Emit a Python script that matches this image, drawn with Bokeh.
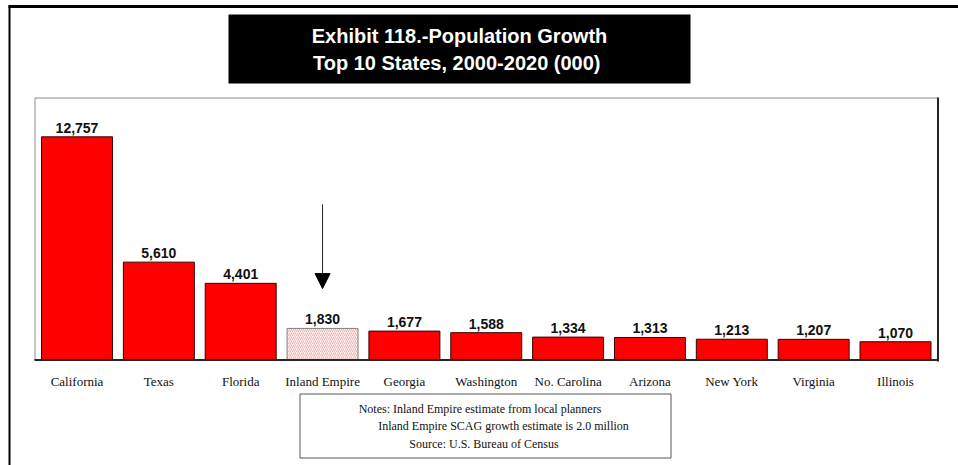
from bokeh.plotting import figure
from bokeh.models import Range1d, Arrow, NormalHead, ColumnDataSource
from bokeh.core.properties import value
from bokeh.embed import file_html
from bokeh.resources import INLINE

categories = ["California", "Texas", "Florida", "Inland Empire", "Georgia", "Washington",
              "No. Carolina", "Arizona", "New York", "Virginia", "Illinois"]
growth = [12757, 5610, 4401, 1830, 1677, 1588, 1334, 1313, 1213, 1207, 1070]
highlight = "Inland Empire"
title_lines = ["Exhibit 118.-Population Growth", "Top 10 States, 2000-2020  (000)"]
note_lines = ["Notes:  Inland Empire estimate from local planners",
              "Inland Empire SCAG growth estimate is 2.0 million",
              "Source:  U.S. Bureau of Census"]
y_max = 15000
arrow_top = 8900
arrow_tip = 4100

# ---- layout constants (canvas pixels) ----
W, H = 958, 465
FT, FB = 97, 360            # top / bottom of the plot box
S = 81.85                   # pixels per category slot
X0 = 76.5 - 0.5 * S         # pixel of slot origin
BAR_W = 0.867
px_per = (FB - FT) / y_max


def X(px):
    return (px - X0) / S


def Y(py):
    return (FB - py) / px_per


p = figure(width=W, height=H, x_range=Range1d(X(0), X(W)), y_range=Range1d(Y(H), Y(0)),
           output_backend="svg", toolbar_location=None,
           min_border_left=0, min_border_right=0, min_border_top=0, min_border_bottom=0)
p.background_fill_color = "white"
p.border_fill_color = "white"
p.outline_line_color = None
p.xgrid.visible = False
p.ygrid.visible = False
p.xaxis.visible = False
p.yaxis.visible = False

# outer border
p.quad(left=[X(8), X(8)], right=[X(10), X(W)], top=[Y(5), Y(4.5)], bottom=[Y(H), Y(7.5)],
       fill_color="black", line_color=None)
# title box
p.quad(left=[X(228)], right=[X(690)], top=[Y(14)], bottom=[Y(83)],
       fill_color="black", line_color=None)
p.text(x=[X(459), X(459)], y=[Y(35), Y(62)], text=title_lines, text_align="center",
       text_baseline="middle", text_color="white", text_font=value("Liberation Sans"),
       text_font_style="bold", text_font_size="20px")
# plot box
p.quad(left=[X(34.5)], right=[X(937.5)], top=[Y(97.5)], bottom=[Y(359.5)],
       fill_color="white", line_color="#8c8c8c", line_width=1)

pos = [i + 0.5 for i in range(len(categories))]
labels = [f"{v:,}" for v in growth]
main = ColumnDataSource(dict(x=[x for x, c in zip(pos, categories) if c != highlight],
                             y=[v for c, v in zip(categories, growth) if c != highlight]))
hi = categories.index(highlight)
hl = ColumnDataSource(dict(x=[pos[hi]], y=[growth[hi]]))
allsrc = ColumnDataSource(dict(x=pos, y=growth, t=labels, c=categories,
                               ly=[Y(381)] * len(categories)))

p.vbar(x="x", top="y", bottom=0, width=BAR_W, source=main, fill_color="#ff0000",
       line_color="#3a0000", line_width=1)
p.vbar(x="x", top="y", bottom=0, width=BAR_W, source=hl, fill_color="#fff4f4",
       hatch_pattern="/", hatch_color="#f4b0b0", hatch_scale=4, hatch_weight=1,
       line_color="#808080", line_width=1)
p.text(x="x", y="y", text="t", source=allsrc, text_align="center", text_baseline="bottom",
       y_offset=-4, text_font=value("Liberation Sans"), text_font_style="bold",
       text_font_size="14px", text_color="#111111")

# plot-box shadow (right / bottom)
p.quad(left=[X(936.5), X(34)], right=[X(938.5), X(938.5)], top=[Y(97), Y(358.5)],
       bottom=[Y(361), Y(360.5)], fill_color="#262626", line_color=None)

# category labels under the plot box
p.text(x="x", y="ly", text="c", source=allsrc, text_align="center", text_baseline="middle",
       text_font=value("Liberation Serif"), text_font_size="13px", text_color="#111111")

ax = pos[hi]
p.add_layout(Arrow(end=NormalHead(size=15, fill_color="black", line_color="black"),
                   x_start=ax, y_start=arrow_top, x_end=ax, y_end=arrow_tip,
                   line_color="#222222", line_width=1))

# notes box
p.quad(left=[X(299.5)], right=[X(670.5)], top=[Y(393.5)], bottom=[Y(457.5)],
       fill_color="white", line_color="#555555", line_width=1)
p.text(x=[X(481), X(503), X(485)], y=[Y(408), Y(425), Y(443)], text=note_lines,
       text_align="center", text_baseline="middle", text_color="#111111",
       text_font=value("Liberation Serif"), text_font_size="12px")

open("out.html", "w").write(file_html(p, INLINE))
